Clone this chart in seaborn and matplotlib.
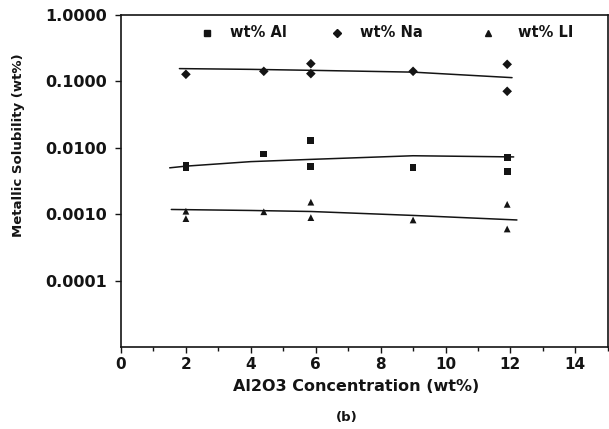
import numpy as np
import pandas as pd
import matplotlib
matplotlib.use("Agg")
import matplotlib.pyplot as plt
import seaborn as sns
from matplotlib.ticker import FixedLocator, MultipleLocator, NullLocator

# Measured solubilities (wt%) versus Al2O3 concentration (wt%)
al_x = [2.0, 2.0, 4.4, 5.85, 5.85, 9.0, 11.9, 11.9]
al_y = [0.0055, 0.0050, 0.0081, 0.0129, 0.0052, 0.0050, 0.0071, 0.0044]

na_x = [2.0, 4.4, 5.85, 5.85, 9.0, 11.9, 11.9]
na_y = [0.128, 0.142, 0.185, 0.131, 0.142, 0.181, 0.071]

li_x = [2.0, 2.0, 4.4, 5.85, 5.85, 9.0, 11.9, 11.9]
li_y = [0.00111, 0.00086, 0.00109, 0.00152, 0.00089, 0.00082, 0.00141, 0.00060]

# Trend curves
al_fit_x = [1.5, 2.0, 4.0, 5.85, 9.0, 12.1]
al_fit_y = [0.0050, 0.0053, 0.0062, 0.0067, 0.0076, 0.0073]
na_fit_x = [1.8, 4.0, 5.85, 9.0, 12.05]
na_fit_y = [0.156, 0.152, 0.147, 0.138, 0.114]
li_fit_x = [1.55, 4.0, 5.85, 9.0, 12.2]
li_fit_y = [0.00118, 0.00114, 0.00110, 0.00096, 0.00082]

series_names = ["wt% Al", "wt% Na", "wt% LI"]
series_markers = ["s", "D", "^"]
y_ticks = [1e-4, 1e-3, 1e-2, 1e-1, 1.0]
y_tick_labels = ["0.0001", "0.0010", "0.0100", "0.1000", "1.0000"]
x_ticks = [0, 2, 4, 6, 8, 10, 12, 14]

points = pd.concat([
    pd.DataFrame({"x": al_x, "y": al_y, "series": series_names[0]}),
    pd.DataFrame({"x": na_x, "y": na_y, "series": series_names[1]}),
    pd.DataFrame({"x": li_x, "y": li_y, "series": series_names[2]}),
], ignore_index=True)

fits = pd.concat([
    pd.DataFrame({"x": al_fit_x, "y": al_fit_y, "series": series_names[0]}),
    pd.DataFrame({"x": na_fit_x, "y": na_fit_y, "series": series_names[1]}),
    pd.DataFrame({"x": li_fit_x, "y": li_fit_y, "series": series_names[2]}),
], ignore_index=True)

sns.set_theme(style="ticks")
plt.rcParams["font.family"] = ["DejaVu Sans"]
plt.rcParams["font.weight"] = "bold"

fig = plt.figure(figsize=(6.09, 4.29), dpi=100)
ax = fig.add_axes([0.1987, 0.191, 0.7993, 0.774])

ink = "#141414"
sns.lineplot(data=fits, x="x", y="y", units="series", estimator=None,
             color=ink, lw=1.1, ax=ax, legend=False, sort=False)
sns.scatterplot(data=points, x="x", y="y", style="series",
                markers=dict(zip(series_names, series_markers)),
                color=ink, s=24, edgecolor=ink, linewidth=0, ax=ax, legend=False)

ax.set_yscale("log")
ax.set_ylim(1e-5, 1.0)
ax.set_xlim(0, 15)

ax.yaxis.set_major_locator(FixedLocator(y_ticks))
ax.set_yticklabels(y_tick_labels)
ax.yaxis.set_minor_locator(NullLocator())
ax.xaxis.set_major_locator(FixedLocator(x_ticks))
ax.xaxis.set_minor_locator(MultipleLocator(1))
ax.tick_params(axis="y", which="major", direction="out", length=4.3,
               width=1, color=ink, labelsize=11.5, labelcolor=ink, pad=5.5)
ax.tick_params(axis="x", which="major", direction="out", length=4,
               width=1, color=ink, labelsize=11, labelcolor=ink, pad=3)
ax.tick_params(axis="x", which="minor", direction="out", length=3, width=1, color=ink)
for lab in ax.get_xticklabels() + ax.get_yticklabels():
    lab.set_fontweight("bold")

for side in ["left", "right", "top", "bottom"]:
    ax.spines[side].set_visible(True)
    ax.spines[side].set_color(ink)
    ax.spines[side].set_linewidth(1.2)

ax.set_xlabel("Al2O3 Concentration (wt%)", fontsize=11.5, fontweight="bold",
              color=ink)
ax.xaxis.set_label_coords(0.484, -0.095)
ax.set_ylabel("Metallic Solubility (wt%)", fontsize=9.5, fontweight="bold",
              color=ink)
ax.yaxis.set_label_coords(-0.197, 0.608)

# Key along the top of the axes
key_marker_x = [0.1766, 0.4435, 0.7536]
key_text_x = [0.2238, 0.4908, 0.8152]
key_y = 0.946
for name, m, mx, tx in zip(series_names, series_markers, key_marker_x, key_text_x):
    ax.plot([mx], [key_y], marker=m, ls="none", color=ink,
            markersize=4.5 if m != "D" else 4, transform=ax.transAxes, clip_on=False)
    ax.text(tx, key_y, name, transform=ax.transAxes, ha="left", va="center",
            fontsize=10.5, fontweight="bold", color=ink)

fig.text(347 / 609, 1 - 417 / 429, "(b)", ha="center", va="center",
         fontsize=9.5, fontweight="bold", color=ink)

fig.savefig("out.png", dpi=100, facecolor="white")
